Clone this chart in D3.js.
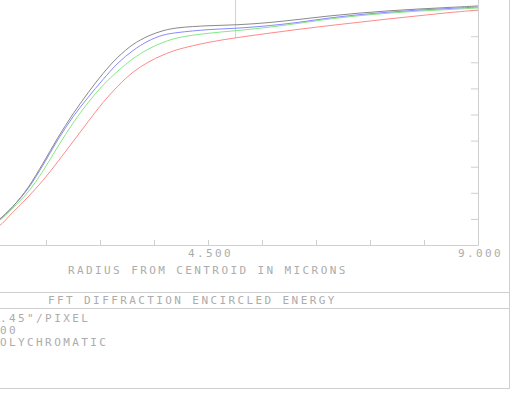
<!DOCTYPE html>
<html>
<head>
<meta charset="utf-8">
<script src="https://cdn.jsdelivr.net/npm/d3@7"></script>
<style>
  body { margin: 0; background: #fff; }
  svg { display: block; }
  text { font-family: "DejaVu Sans Mono", monospace; font-size: 11px; letter-spacing: 2.4px; fill: #acacac; }
</style>
</head>
<body>
<div id="chart"></div>
<script>
// radius in microns and encircled energy fraction for each curve
const radius = [0, 0.5, 0.75, 1.0, 1.25, 1.5, 1.75, 2.0, 2.25, 2.5, 2.75, 3.0, 3.25, 3.5, 3.75, 4.0, 4.5, 5.0, 5.5, 6.0, 6.5, 7.0, 7.5, 8.0, 8.5, 9.0];
const energyBlack = [0, 0.024, 0.053, 0.094, 0.148, 0.220, 0.313, 0.412, 0.502, 0.583, 0.657, 0.720, 0.768, 0.800, 0.821, 0.832, 0.840, 0.844, 0.852, 0.864, 0.877, 0.888, 0.897, 0.904, 0.910, 0.916];
const energyBlue  = [0, 0.023, 0.052, 0.092, 0.148, 0.216, 0.306, 0.404, 0.491, 0.565, 0.634, 0.697, 0.745, 0.781, 0.804, 0.814, 0.825, 0.831, 0.840, 0.853, 0.869, 0.882, 0.892, 0.900, 0.906, 0.912];
const energyGreen = [0, 0.022, 0.050, 0.089, 0.142, 0.203, 0.284, 0.378, 0.467, 0.545, 0.612, 0.667, 0.714, 0.750, 0.776, 0.794, 0.811, 0.822, 0.834, 0.849, 0.865, 0.878, 0.888, 0.896, 0.902, 0.908];
const energyRed   = [0, 0.017, 0.038, 0.069, 0.126, 0.184, 0.248, 0.320, 0.396, 0.472, 0.546, 0.609, 0.662, 0.700, 0.728, 0.749, 0.776, 0.795, 0.811, 0.826, 0.840, 0.853, 0.866, 0.878, 0.890, 0.900];

const xTicks = [0.9, 1.8, 2.7, 3.6, 4.5, 5.4, 6.3, 7.2, 8.1, 9.0];
const xLabels = [4.5, 9.0];
const yTicks = [0.1, 0.2, 0.3, 0.4, 0.5, 0.6, 0.7, 0.8, 0.9];
const markerRadius = 4.95;
const markerEnergy = 0.793;

const titleText = "FFT DIFFRACTION ENCIRCLED ENERGY";
const xTitle = "RADIUS FROM CENTROID IN MICRONS";
const infoLines = ['.45"/PIXEL', "00", "OLYCHROMATIC"];

const width = 531, height = 397;
const lineColor = "#cfcfcf";

const svg = d3.select("#chart").append("svg")
	.attr("width", width)
	.attr("height", height);

const x = d3.scaleLinear().domain([0, 9]).range([-62, 478]);
const y = d3.scaleLinear().domain([0, 1]).range([245, -16]);

// bottom axis, ticks pointing up
const xAxis = svg.append("g")
	.attr("transform", "translate(0," + y(0) + ")")
	.call(d3.axisBottom(x).tickValues(xTicks).tickSize(-5).tickSizeOuter(0).tickFormat(""));

// right axis, ticks pointing in
const yAxis = svg.append("g")
	.attr("transform", "translate(" + x(9) + ",0)")
	.call(d3.axisLeft(y).tickValues(yTicks).tickSize(7).tickSizeOuter(0).tickFormat(""));

[xAxis, yAxis].forEach(a => {
	a.selectAll("path, line").attr("stroke", lineColor);
});

svg.selectAll("text.xlabel")
	.data(xLabels)
	.enter()
	.append("text")
	.attr("class", "xlabel")
	.attr("x", d => x(d) - 20)
	.attr("y", 257)
	.text(d => d.toFixed(3));

// marker line
svg.append("line")
	.attr("x1", Math.round(x(markerRadius)) + 0.5)
	.attr("x2", Math.round(x(markerRadius)) + 0.5)
	.attr("y1", y(1))
	.attr("y2", y(markerEnergy))
	.attr("stroke", "#f2c4c4");

const series = [
	{name: "red", values: energyRed, color: "#ff8a8a"},
	{name: "green", values: energyGreen, color: "#86e886"},
	{name: "blue", values: energyBlue, color: "#8a8aff"},
	{name: "black", values: energyBlack, color: "#8a8a8a"}
];

const line = d3.line()
	.x((d, i) => x(radius[i]))
	.y(d => y(d))
	.curve(d3.curveCatmullRom.alpha(0.5));

svg.selectAll("path.curve")
	.data(series)
	.enter()
	.append("path")
	.attr("class", "curve")
	.attr("fill", "none")
	.attr("stroke", d => d.color)
	.attr("stroke-width", 1)
	.attr("d", d => line(d.values));

svg.append("text")
	.attr("x", 68)
	.attr("y", 274)
	.text(xTitle);

// frame
const frame = svg.append("g").attr("stroke", lineColor).attr("fill", "none");
frame.append("line").attr("x1", 509.5).attr("x2", 509.5).attr("y1", 0).attr("y2", 388.5);
[292.5, 308.5, 388.5].forEach(v => {
	frame.append("line").attr("x1", 0).attr("x2", 509.5).attr("y1", v).attr("y2", v);
});

svg.append("text")
	.attr("x", 48)
	.attr("y", 304)
	.text(titleText);

svg.selectAll("text.info")
	.data(infoLines)
	.enter()
	.append("text")
	.attr("class", "info")
	.attr("x", 0)
	.attr("y", (d, i) => 322 + i * 12)
	.text(d => d);
</script>
</body>
</html>
